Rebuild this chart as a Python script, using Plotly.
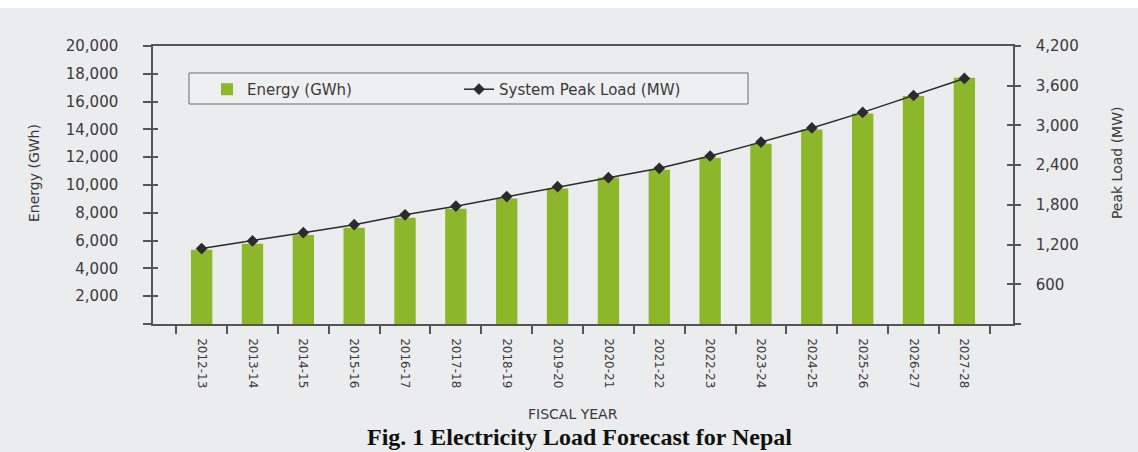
import plotly.graph_objects as go

# Fiscal years of the forecast
years = ["2012-13", "2013-14", "2014-15", "2015-16", "2016-17", "2017-18",
         "2018-19", "2019-20", "2020-21", "2021-22", "2022-23", "2023-24",
         "2024-25", "2025-26", "2026-27", "2027-28"]

# Energy demand (GWh)
energy_gwh = [5350, 5780, 6400, 6930, 7650, 8300, 9020, 9750,
              10540, 11100, 11960, 12970, 14000, 15140, 16410, 17710]

# System peak load (MW)
peak_mw = [1140, 1255, 1380, 1500, 1650, 1780, 1925, 2075,
           2210, 2352, 2538, 2748, 2962, 3197, 3452, 3710]

# Axis ticks
energy_ticks = [0, 2000, 4000, 6000, 8000, 10000, 12000, 14000, 16000, 18000, 20000]
energy_ticktext = [""] + [f"{v:,}" for v in energy_ticks[1:]]
peak_ticks = [0, 600, 1200, 1800, 2400, 3000, 3600, 4200]
peak_ticktext = [""] + [f"{v:,}" for v in peak_ticks[1:]]

BG = "#eaeced"
AXIS = "#555555"
TEXT = "#3a3a3a"
SANS = "DejaVu Sans"

# plot area in pixels: 153..1013 wide, 46..324 tall
PLOT_H = 278.0

fig = go.Figure()

fig.add_trace(go.Bar(
    x=years, y=energy_gwh, name="Energy (GWh)",
    marker=dict(color="#8db72a", line=dict(width=0)),
    yaxis="y",
))
fig.add_trace(go.Scatter(
    x=years, y=peak_mw, name="System Peak Load (MW)",
    mode="lines+markers",
    line=dict(color="#2b2b2b", width=1.5),
    marker=dict(symbol="diamond", size=9, color="#2b2b2b"),
    yaxis="y2",
))
# helper traces so the inner tick overlays are drawn
fig.add_trace(go.Scatter(x=years, y=energy_gwh, mode="none", yaxis="y3",
                         showlegend=False, hoverinfo="skip"))
fig.add_trace(go.Scatter(x=years, y=peak_mw, mode="none", yaxis="y4",
                         showlegend=False, hoverinfo="skip"))

fig.update_layout(
    width=1138, height=452,
    margin=dict(l=153, r=125, t=46, b=128),
    paper_bgcolor=BG, plot_bgcolor=BG,
    bargap=0.58,
    font=dict(family=SANS, color=TEXT, size=14),
    showlegend=True,
    legend=dict(
        orientation="h", x=0.0628, y=0.903, xanchor="left", yanchor="top",
        bgcolor="rgba(0,0,0,0)", borderwidth=0,
        font=dict(family=SANS, size=15, color=TEXT),
        entrywidth=207, entrywidthmode="pixels",
    ),
    xaxis=dict(
        type="category", showline=True, linecolor=AXIS, linewidth=1.5,
        mirror=True, ticks="outside", tickson="boundaries", ticklen=8,
        tickcolor=AXIS, tickwidth=1.5, tickangle=90,
        tickfont=dict(family=SANS, size=12, color=TEXT),
        ticklabelstandoff=10, showgrid=False,
    ),
    yaxis=dict(
        range=[0, 20000], tickvals=energy_ticks, ticktext=energy_ticktext,
        showline=True, linecolor=AXIS, linewidth=1.5, ticks="outside",
        ticklen=8, tickcolor=AXIS, tickwidth=1.5, showgrid=False,
        zeroline=False, tickfont=dict(family=SANS, size=15, color=TEXT),
        ticklabelstandoff=22,
    ),
    yaxis2=dict(
        range=[0, 4200], tickvals=peak_ticks, ticktext=peak_ticktext,
        overlaying="y", side="right", showline=True, linecolor=AXIS,
        linewidth=1.5, ticks="outside", ticklen=6, tickcolor=AXIS,
        tickwidth=1.5, showgrid=False, zeroline=False,
        tickfont=dict(family=SANS, size=15, color=TEXT),
        ticklabelstandoff=12,
    ),
    yaxis3=dict(
        range=[0, 20000], tickvals=energy_ticks, overlaying="y", side="left",
        showticklabels=False, ticks="inside", ticklen=5, tickcolor=AXIS,
        tickwidth=1.5, showgrid=False, zeroline=False, showline=False,
    ),
    yaxis4=dict(
        range=[0, 4200], tickvals=peak_ticks, overlaying="y", side="right",
        showticklabels=False, ticks="inside", ticklen=6, tickcolor=AXIS,
        tickwidth=1.5, showgrid=False, zeroline=False, showline=False,
    ),
    shapes=[
        # white strip along the top edge
        dict(type="rect", xref="paper", yref="paper", layer="below",
             x0=-0.2, x1=1.2, y0=1 + 38 / PLOT_H, y1=1 + 46 / PLOT_H,
             fillcolor="white", line=dict(width=0)),
        # legend frame
        dict(type="rect", xref="paper", yref="paper", layer="above",
             x0=(189 - 153) / 860, x1=(748 - 153) / 860,
             y0=(324 - 104) / PLOT_H, y1=(324 - 73) / PLOT_H,
             fillcolor="rgba(240,242,243,0.6)",
             line=dict(color="#6a6a6a", width=1)),
    ],
    annotations=[
        dict(text="Energy (GWh)", xref="paper", yref="paper",
             x=-0.1384, y=0.543, xanchor="center", yanchor="middle",
             textangle=-90, showarrow=False,
             font=dict(family=SANS, size=14, color=TEXT)),
        dict(text="Peak Load (MW)", xref="paper", yref="paper",
             x=1.121, y=0.579, xanchor="center", yanchor="middle",
             textangle=-90, showarrow=False,
             font=dict(family=SANS, size=14, color=TEXT)),
        dict(text="FISCAL YEAR", xref="paper", yref="paper",
             x=0.488, y=(324 - 414) / PLOT_H, xanchor="center",
             yanchor="middle", showarrow=False, borderpad=0,
             font=dict(family=SANS, size=14, color=TEXT)),
        dict(text="<b>Fig. 1 Electricity Load Forecast for Nepal</b>",
             xref="paper", yref="paper", x=0.4965, y=(324 - 437) / PLOT_H,
             xanchor="center", yanchor="middle", showarrow=False, borderpad=0,
             font=dict(family="Liberation Serif", size=24, color="#111111")),
    ],
)

fig.write_html("out.html")
